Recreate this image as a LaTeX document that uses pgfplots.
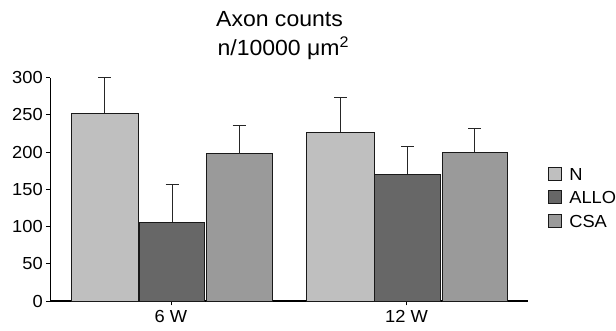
\documentclass[border=0pt]{standalone}
\usepackage{pgfplots}
\pgfplotsset{compat=1.18}
\usepackage{fontspec}
\setmainfont{Liberation Sans}[FakeStretch=1.05]
\definecolor{cN}{HTML}{BFBFBF}
\definecolor{cA}{HTML}{676767}
\definecolor{cC}{HTML}{9A9A9A}
\begin{document}
\begin{tikzpicture}
\useasboundingbox (-50.3bp,-30bp) rectangle (565.7bp,301bp);
\begin{axis}[
  at={(0,0)}, anchor=south west,
  scale only axis,
  width=477.7bp, height=223.3bp,
  xmin=-0.512, xmax=1.516,
  ymin=0, ymax=300,
  axis x line*=bottom, axis y line*=left,
  x axis line style={line width=1.8bp, -},
  y axis line style={line width=1.3bp, -},
  xtick={0,1}, xticklabels={6 W,12 W},
  ytick={0,50,...,300},
  tick align=outside,
  major tick length=4.5bp,
  tick style={black, line width=0.9bp},
  xtick style={line width=0.8bp},
  /pgf/number format/assume math mode=true,
  tick label style={font=\fontsize{17.5}{20}\selectfont},
  yticklabel style={xshift=0.5bp},
  xticklabel style={yshift=-1bp},
  ybar, clip=false,
  error bars/y dir=plus, error bars/y explicit,
  error bars/error bar style={line width=0.9bp, black!85},
  error bars/error mark options={rotate=90, mark size=6.5bp, line width=0.9bp, black!85},
  legend image code/.code={\draw[#1, line width=0.8bp] (0bp,-6.5bp) rectangle (13bp,6.5bp);},
  legend style={at={(1.0404,0.464)}, anchor=west, draw=none, fill=none,
    inner sep=0pt, row sep=9.6bp, column sep=0pt,
    font=\fontsize{17.5}{20}\selectfont,
    nodes={inner sep=0pt, text height=13bp, text depth=0bp, xshift=0bp}},
  legend cell align=left,
]
\addplot+[draw=black!90, line width=0.8bp, fill=cN, bar width=0.288, bar shift=-0.28] coordinates {(0,252) +- (0,48) (1,227) +- (0,47)};
\addplot+[draw=black!90, line width=0.8bp, fill=cA, bar width=0.278, bar shift=0.005] coordinates {(0,106) +- (0,51) (1,170) +- (0,38)};
\addplot+[draw=black!90, line width=0.8bp, fill=cC, bar width=0.278, bar shift=0.29] coordinates {(0,198) +- (0,37.5) (1,200) +- (0,32)};
\legend{\hspace{8bp}N,\hspace{8bp}ALLO,\hspace{8bp}CSA}
\end{axis}
\node[anchor=base, font=\fontsize{22}{26}\selectfont] at (229.2bp,274bp) {Axon counts};
\node[anchor=base, font=\fontsize{22}{26}\selectfont] at (233bp,245.5bp) {n/10000 μm\textsuperscript{2}};
\end{tikzpicture}
\end{document}
